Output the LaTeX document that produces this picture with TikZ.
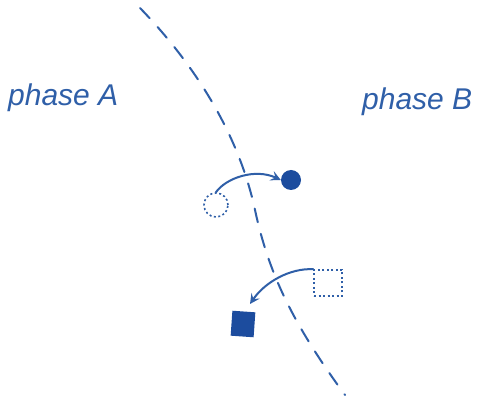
\documentclass[tikz,border=0pt]{standalone}
\usepackage{fontspec}
\setmainfont{Liberation Sans}
\usetikzlibrary{arrows.meta}
\definecolor{ink}{HTML}{2F5FA8}
\definecolor{inkdark}{HTML}{1C4C9E}
\tikzset{
  ink/.style={draw=ink, line width=2pt, line cap=round},
  boundary/.style={ink, dash pattern=on 14pt off 12pt},
  dotline/.style={draw=ink, line width=1.6pt, dash pattern=on 2pt off 2.5pt},
  label/.style={text=ink, font=\fontsize{30}{34}\selectfont\itshape, inner sep=0pt},
  hop/.style={ink, -{Stealth[length=10pt,width=10pt,inset=4pt]}}
}
\begin{document}
\begin{tikzpicture}[x=1pt,y=-1pt]
\useasboundingbox[fill=white] (0,0) rectangle (482,403);
% phase boundary
\coordinate (b0) at (140,8);
\coordinate (b1) at (345,395);
\draw[boundary] (b0) .. controls (200,70) and (240,140) .. (255,210)
  .. controls (268,270) and (290,320) .. (b1);
% labels
\node[label, anchor=base west] (pa) at (8,106) {phase A};
\node[label, anchor=base west] (pb) at (362,110) {phase B};
% circle pair
\node[circle, dotline, minimum size=24pt, inner sep=0pt] (oc) at (216,205) {};
\node[circle, fill=inkdark, minimum size=20pt, inner sep=0pt] (fc) at (291,180) {};
\draw[hop] (oc.north) .. controls (226,178) and (255,168) .. (fc.west);
% square pair
\node[rectangle, dotline, minimum width=28pt, minimum height=26pt, inner sep=0pt] (os) at (328,283) {};
\node[rectangle, fill=inkdark, minimum width=23pt, minimum height=25pt, inner sep=0pt, rotate=-4] (fs) at (243,324) {};
\draw[hop] (os.north west) .. controls (290,268) and (265,282) .. (250,304);
\end{tikzpicture}
\end{document}
